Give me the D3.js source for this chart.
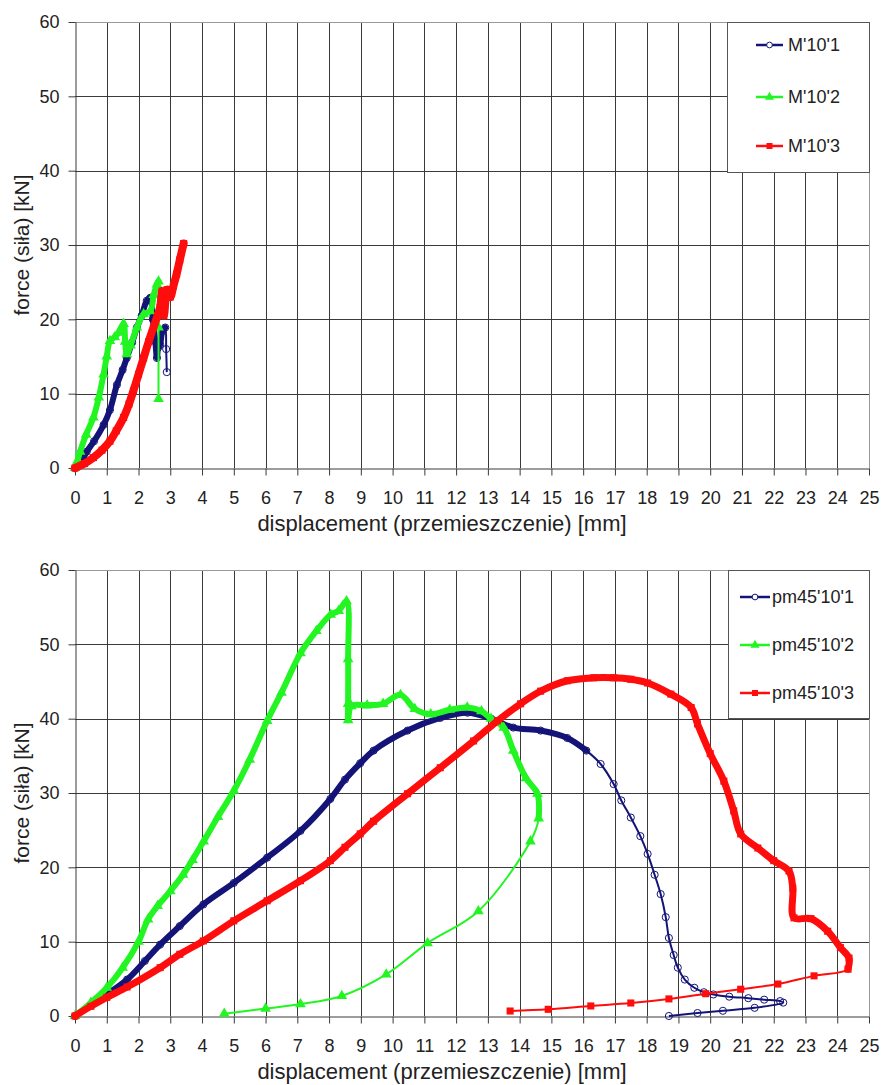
<!DOCTYPE html>
<html><head><meta charset="utf-8">
<script src="https://cdn.jsdelivr.net/npm/d3@7"></script>
<style>
body{margin:0;background:#fff}
text{font-family:"Liberation Sans",Arial,sans-serif;fill:#222}
</style>
</head><body>
<svg id="c" width="882" height="1085"></svg>
<script>
// ---------- data ----------
const xTickValues = [0,1,2,3,4,5,6,7,8,9,10,11,12,13,14,15,16,17,18,19,20,21,22,23,24,25];
const yTickValues = [0,10,20,30,40,50,60];
const xTitle = "displacement (przemieszczenie) [mm]";
const yTitle = "force (siła) [kN]";

const topNames = ["M'10'1", "M'10'2", "M'10'3"];
const bottomNames = ["pm45'10'1", "pm45'10'2", "pm45'10'3"];

// [displacement mm, force kN]
const m10_1 = [[0,0],[0.2,0.8],[0.37,2.2],[0.6,3.6],[0.9,5.8],[1.1,7.8],[1.32,11.2],[1.5,13.2],[1.63,14.8],[1.8,16.9],[1.95,18.9],[2.1,20.5],[2.26,22.5],[2.37,22.9],[2.45,20],[2.53,17],[2.58,14.8],[2.62,16.2],[2.68,16.6],[2.75,18.4],[2.84,18.9],[2.87,16],[2.89,12.9]];
const m10_2 = [[0,0],[0.08,1],[0.16,2.2],[0.35,4.5],[0.58,6.8],[0.75,9.5],[0.9,12.6],[1.0,15],[1.1,17.1],[1.25,17.6],[1.37,18.2],[1.53,19.4],[1.58,17],[1.63,15.3],[1.75,16.5],[1.95,18.9],[2.16,20.7],[2.37,21.1],[2.48,23.3],[2.58,24.7],[2.63,25.1],[2.63,18.9],[2.63,9.3]];
const m10_3 = [[0,0],[0.3,0.6],[0.58,1.4],[0.85,2.4],[1.1,3.6],[1.3,5],[1.53,6.8],[1.7,8.6],[1.84,10.4],[2.0,12.6],[2.16,14.8],[2.32,17],[2.47,18.9],[2.6,20.5],[2.68,21.6],[2.74,23.8],[2.8,20.5],[2.9,24],[3.0,23],[3.1,24.5],[3.2,26.1],[3.3,28],[3.42,30.2]];
const m10DenseCount = [21, 21, 23];

const pm45_1 = [[0,0],[0.5,1.5],[1,2.9],[1.64,4.9],[2.2,7.4],[2.68,9.6],[3.3,12.1],[4.04,15],[5,17.9],[6.05,21.3],[7.1,24.9],[8.04,29.2],[8.5,31.8],[8.98,34],[9.4,35.7],[10.47,38.4],[11.5,40.1],[12.36,40.8],[13.1,40],[13.8,38.8],[14.66,38.4],[15.5,37.4],[16.1,35.7],[16.55,33.9],[16.96,31.2],[17.2,29],[17.5,26.7],[17.8,24.2],[18.03,21.8],[18.25,19],[18.44,16.4],[18.6,13.3],[18.7,10.5],[18.85,8.2],[18.98,6.5],[19.2,4.9],[19.5,3.8],[19.8,3.2],[20.1,2.9],[20.6,2.6],[21.2,2.4],[21.7,2.2],[22.2,2.0],[22.3,1.8],[21.4,1.1],[20.4,0.7],[19.6,0.4],[18.7,0]];
const pm45_2 = [[0,0],[0.5,1.8],[1,3.8],[1.5,6.5],[2,10],[2.3,13],[2.6,14.8],[3,16.8],[3.4,19],[3.7,21],[4.05,23.5],[4.5,26.8],[5,30.3],[5.5,34.5],[6.05,39.7],[6.5,43.5],[7.1,48.8],[7.6,51.8],[8.05,54],[8.3,54.5],[8.55,55.8],[8.6,48],[8.6,42],[8.6,39.8],[8.7,41.7],[9.2,41.8],[9.7,42],[10.25,43.2],[10.7,41.3],[11.2,40.6],[11.8,41.2],[12.35,41.5],[12.8,41],[13.1,40],[13.5,38.8],[13.8,35.7],[14.2,32],[14.56,29.9],[14.6,26.6],[14.34,23.5],[12.7,14.1],[11.1,9.8],[9.8,5.6],[8.4,2.7],[7.1,1.6],[6.0,1.0],[4.7,0.3]];
const pm45_3 = [[0,0],[0.5,1.3],[1,2.5],[1.64,3.9],[2.68,6.5],[3.3,8.3],[4.04,10.1],[5,12.8],[6.05,15.5],[7.1,18.2],[8.04,20.9],[8.5,22.7],[8.98,24.5],[9.4,26.2],[10.47,29.9],[11.5,33.4],[12.55,37],[13.3,39.7],[14.03,42],[14.66,43.7],[15.5,45.1],[16.33,45.5],[16.96,45.5],[17.5,45.3],[18.03,44.8],[18.76,43.3],[19.4,41.5],[19.6,39.3],[20.0,35.3],[20.43,31.6],[20.74,27.6],[20.96,24.5],[21.5,22.6],[22.0,20.9],[22.48,19.5],[22.6,17.2],[22.64,13.2],[23.17,13.1],[23.7,11.4],[24.1,9.2],[24.37,7.8],[24.34,6.3],[23.27,5.4],[22.13,4.3],[20.96,3.6],[19.86,3.0],[18.7,2.3],[17.5,1.75],[16.24,1.35],[14.9,0.9],[13.7,0.67]];
const pm45DenseCount = [23, 39, 42];

// ---------- styles ----------
const colors = ["#141478", "#22f522", "#ff0c0c"];
const symbols = [d3.symbolCircle, d3.symbolTriangle, d3.symbolSquare];

const svg = d3.select("#c");

function drawChart(cfg) {
  const x = d3.scaleLinear().domain([0, 25]).range([75, 869]);
  const y = d3.scaleLinear().domain([0, 60]).range([cfg.bottom, cfg.top]);
  const g = svg.append("g");

  // grid
  g.append("g").selectAll("line").data(xTickValues.slice(1, -1)).join("line")
    .attr("x1", d => Math.round(x(d)) + 0.5).attr("x2", d => Math.round(x(d)) + 0.5)
    .attr("y1", y(60)).attr("y2", y(0)).attr("stroke", "#3a3a3a").attr("stroke-width", 1);
  g.append("g").selectAll("line").data(yTickValues.slice(1, -1)).join("line")
    .attr("y1", d => Math.round(y(d)) + 0.5).attr("y2", d => Math.round(y(d)) + 0.5)
    .attr("x1", x(0)).attr("x2", x(25)).attr("stroke", "#3a3a3a").attr("stroke-width", 1);
  // light border top/right
  g.append("line").attr("x1", x(0)).attr("x2", x(25)).attr("y1", Math.round(y(60)) + 0.5).attr("y2", Math.round(y(60)) + 0.5).attr("stroke", "#9a9a9a");
  g.append("line").attr("x1", Math.round(x(25)) + 0.5).attr("x2", Math.round(x(25)) + 0.5).attr("y1", y(60)).attr("y2", y(0)).attr("stroke", "#9a9a9a");

  // axes
  const xa = g.append("g").attr("transform", `translate(0,${Math.round(y(0)) + 0.5})`)
    .call(d3.axisBottom(x).tickValues(xTickValues).tickSize(7).tickPadding(16).tickSizeOuter(0));
  const ya = g.append("g").attr("transform", `translate(${Math.round(x(0)) + 0.5},0)`)
    .call(d3.axisLeft(y).tickValues(yTickValues).tickSize(7).tickPadding(9).tickSizeOuter(0));
  [xa, ya].forEach(a => {
    a.selectAll("path,line").attr("stroke", "#3a3a3a");
    a.selectAll("text").attr("font-size", 18).attr("fill", "#222")
      .attr("font-family", "'Liberation Sans',Arial,sans-serif");
  });

  // titles
  g.append("text").attr("x", 442).attr("y", y(0) + 63).attr("text-anchor", "middle")
    .attr("font-size", 22).text(xTitle);
  g.append("text").attr("transform", `translate(29,${(y(0) + y(60)) / 2}) rotate(-90)`)
    .attr("text-anchor", "middle").attr("font-size", 21).text(yTitle);

  // legend box (covers grid)
  const L = cfg.legend;
  g.append("rect").attr("x", L.x + 0.5).attr("y", L.y + 0.5).attr("width", L.w).attr("height", L.h)
    .attr("fill", "#fff").attr("stroke", "#555");

  // series
  const line = d3.line().x(d => x(d[0])).y(d => y(d[1])).curve(d3.curveCatmullRom.alpha(0.5));
  cfg.series.forEach((s, i) => {
    const dense = s.data.slice(0, cfg.dense[i]);
    const sg = g.append("g");
    sg.append("path").attr("d", line(s.data)).attr("fill", "none")
      .attr("stroke", colors[i]).attr("stroke-width", 2).attr("stroke-linejoin", "round");
    sg.append("path").attr("d", line(dense)).attr("fill", "none")
      .attr("stroke", colors[i]).attr("stroke-width", cfg.band[i])
      .attr("stroke-linejoin", "round").attr("stroke-linecap", "round");
    sg.selectAll("path.m").data(s.data).join("path").attr("class", "m")
      .attr("transform", d => `translate(${x(d[0])},${y(d[1])})`)
      .attr("d", d3.symbol().type(symbols[i]).size(i === 0 ? 40 : 50))
      .attr("fill", i === 0 ? "none" : colors[i])
      .attr("stroke", colors[i]).attr("stroke-width", i === 0 ? 1 : 0);
  });

  // legend entries
  cfg.names.forEach((n, i) => {
    const ly = L.y + L.items[i];
    g.append("line").attr("x1", L.sx1).attr("x2", L.sx2).attr("y1", ly).attr("y2", ly)
      .attr("stroke", colors[i]).attr("stroke-width", 2.5);
    g.append("path").attr("transform", `translate(${(L.sx1 + L.sx2) / 2},${ly})`)
      .attr("d", d3.symbol().type(symbols[i]).size(i === 0 ? 26 : 36))
      .attr("fill", i === 0 ? "#fff" : colors[i]).attr("stroke", colors[i]).attr("stroke-width", i === 0 ? 1 : 0);
    g.append("text").attr("x", L.tx).attr("y", ly).attr("dy", "0.36em")
      .attr("font-size", 18).text(n);
  });
}

drawChart({
  top: 22, bottom: 468,
  names: topNames,
  series: [{data: m10_1}, {data: m10_2}, {data: m10_3}],
  dense: m10DenseCount,
  band: [6, 6, 8],
  legend: {x: 727, y: 22, w: 142, h: 150, items: [23, 75, 124], sx1: 756, sx2: 783, tx: 788}
});
drawChart({
  top: 570, bottom: 1016,
  names: bottomNames,
  series: [{data: pm45_1}, {data: pm45_2}, {data: pm45_3}],
  dense: pm45DenseCount,
  band: [6, 6, 7],
  legend: {x: 728, y: 570, w: 141, h: 148, items: [27, 75, 123], sx1: 740, sx2: 770, tx: 772}
});
</script>
</body></html>
